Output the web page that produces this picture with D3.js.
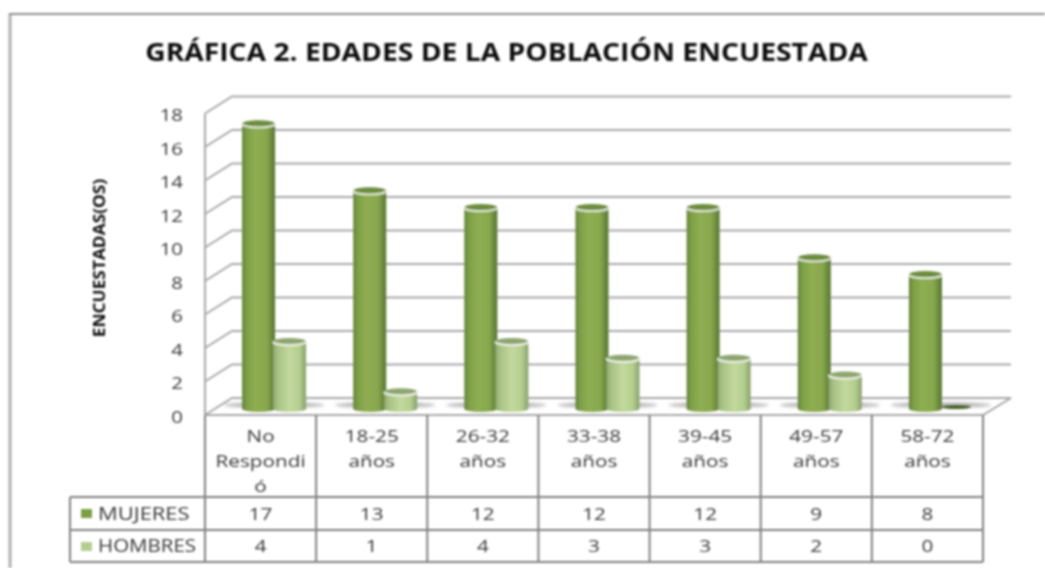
<!DOCTYPE html>
<html><head><meta charset="utf-8">
<script src="https://cdn.jsdelivr.net/npm/d3@7"></script>
<style>html,body{margin:0;padding:0;background:#fff;overflow:hidden}svg{display:block}text{font-family:"Open Sans","Noto Sans",sans-serif}</style>
</head><body><div id="c"></div>
<script>
const categories=[["No","Respondi","ó"],["18-25","años"],["26-32","años"],["33-38","años"],["39-45","años"],["49-57","años"],["58-72","años"]];
const mujeres=[17,13,12,12,12,9,8];
const hombres=[4,1,4,3,3,2,0];
const seriesNames=["MUJERES","HOMBRES"];
const ticks=[0,2,4,6,8,10,12,14,16,18];
const title="GRÁFICA 2. EDADES DE LA POBLACIÓN ENCUESTADA";
const yTitle="ENCUESTADAS(OS)";

const W=1045,H=568;
const svg=d3.select("#c").append("svg").attr("width",W).attr("height",H);
const defs=svg.append("defs");
const blur=defs.append("filter").attr("id","soft").attr("filterUnits","userSpaceOnUse").attr("x",0).attr("y",0).attr("width",W).attr("height",H);
blur.append("feGaussianBlur").attr("stdDeviation",0.9);
const sb=defs.append("filter").attr("id","sb").attr("x","-30%").attr("y","-200%").attr("width","160%").attr("height","500%");
sb.append("feGaussianBlur").attr("stdDeviation",1.8);
function grad(id,stops){const g=defs.append("linearGradient").attr("id",id);
 stops.forEach(s=>g.append("stop").attr("offset",s[0]).attr("stop-color",s[1]));}
grad("g0",[[0,"#5f7f33"],[.12,"#7c9e45"],[.4,"#8fae52"],[.75,"#88a74e"],[1,"#567530"]]);
grad("g1",[[0,"#8fa772"],[.15,"#a9c285"],[.5,"#c3d99d"],[.8,"#b5cd8f"],[1,"#86a06a"]]);

const root=svg.append("g").attr("filter","url(#soft)");
const grid="#a8a8a8",tbl="#808080",txt="#383838";

function stretched(sel,x,yy,str,size,sx,anchor,fill,weight){
 return sel.append("text").attr("transform",`translate(${x},${yy}) scale(${sx},1)`)
  .attr("text-anchor",anchor).attr("font-size",size).attr("fill",fill).attr("font-weight",weight||400).text(str);
}

root.append("path").attr("d","M10,568V14").attr("fill","none").attr("stroke","#b0b0b0").attr("stroke-width",3);
root.append("path").attr("d","M9,14H1045").attr("fill","none").attr("stroke","#8f8f8f").attr("stroke-width",2);

stretched(root,506.5,61,title,25,1.13,"middle","#111",700);

const dx=27,dy=-17;
const x0=205,xN=983,backR=1011;
const y=d3.scaleLinear().domain([0,18]).range([415,113.5]);
const band=d3.scaleBand().domain(d3.range(categories.length)).range([x0,xN]);

const g=root.append("g").attr("fill","none").attr("stroke",grid).attr("stroke-width",2);
g.selectAll("path.g").data(ticks).join("path").attr("class","g")
 .attr("d",t=>`M${x0},${y(t)}L${x0+dx},${y(t)+dy}H${backR}`);
g.append("path").attr("d",`M${x0},${y(0)}V${y(18)}`);
root.append("path").attr("d",`M${x0},${y(0)}H${xN}L${backR},${y(0)+dy}`).attr("fill","none").attr("stroke",grid).attr("stroke-width",2);

const yt=root.append("g");
ticks.forEach(t=>stretched(yt,183,y(t)+7.5,t,17,1.2,"end",txt));
root.append("text").attr("transform","translate(105,258) rotate(-90) scale(1.05,1)").attr("text-anchor","middle")
 .attr("font-size",16.5).attr("font-weight",700).attr("fill","#111").text(yTitle);

const base=408.5,unit=(y(0)-y(18))/18,rx=16.5,ry=3.6;
const bars=root.append("g");
const barOff=[-2,29];
categories.forEach((c,i)=>{
 const cx=band(i)+band.bandwidth()/2+13.5;
 bars.append("ellipse").attr("cx",cx).attr("cy",405).attr("rx",50).attr("ry",2.6).attr("fill","#8c8c8c").attr("opacity",.7).attr("filter","url(#sb)");
});
function cyl(sel,vals,off,fill,topFill,rim){
 vals.forEach((v,i)=>{
  const cx=band(i)+band.bandwidth()/2+off, yb=base, yTop=base-v*unit;
  if(v>0){
   sel.append("path").attr("d",`M${cx-rx},${yTop}V${yb}A${rx},${ry} 0 0 0 ${cx+rx},${yb}V${yTop}Z`).attr("fill",fill);
   sel.append("ellipse").attr("cx",cx).attr("cy",yTop).attr("rx",rx).attr("ry",ry).attr("fill",topFill);
   sel.append("path").attr("d",`M${cx-rx},${yTop}A${rx},${ry} 0 0 0 ${cx+rx},${yTop}`).attr("fill","none").attr("stroke",rim).attr("stroke-width",1.8);
  } else {
   sel.append("ellipse").attr("cx",cx).attr("cy",yb-1.5).attr("rx",rx-2).attr("ry",2).attr("fill","#4a6328");
  }
 });
}
cyl(bars,mujeres,barOff[0],"url(#g0)","#6d8c3c","#e6eddb");
cyl(bars,hombres,barOff[1],"url(#g1)","#8ea56f","#f2f6ea");

const rows=[415,497,530,562],tx0=70;
const t=root.append("g").attr("stroke",tbl).attr("stroke-width",2).attr("fill","none");
t.append("path").attr("d",`M${x0},${rows[0]}V${rows[3]}`);
d3.range(1,8).forEach(i=>t.append("path").attr("d",`M${band(i-1)+band.bandwidth()},${rows[0]}V${rows[3]}`));
t.append("path").attr("d",`M${tx0},${rows[1]}H${xN}M${tx0},${rows[2]}H${xN}M${tx0},${rows[3]}H${xN}M${tx0},${rows[1]}V${rows[3]}`);

const cc=i=>band(i)+band.bandwidth()/2;
categories.forEach((c,i)=>c.forEach((s,k)=>stretched(root,cc(i),442+k*25.2,s,17,1.22,"middle",txt)));
const nameScale=[1.22,1.14];
[mujeres,hombres].forEach((vals,r)=>{
 const yy=rows[1+r]+(r?22:23);
 vals.forEach((v,i)=>stretched(root,cc(i),yy,v,17,1.22,"middle",txt));
 root.append("rect").attr("x",81).attr("y",rows[1+r]+12).attr("width",11).attr("height",9).attr("fill",r?"#b5cd8f":"#7c9e45");
 stretched(root,98,yy,seriesNames[r],18,nameScale[r],"start",txt);
});
</script></body></html>
